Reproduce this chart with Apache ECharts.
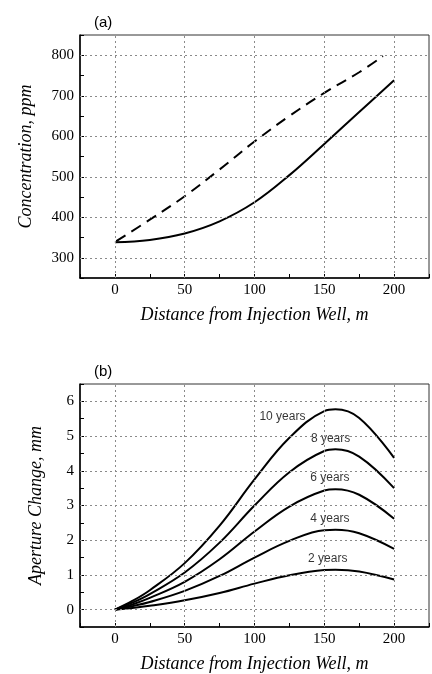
<!DOCTYPE html>
<html>
<head>
<meta charset="utf-8">
<script src="https://cdn.jsdelivr.net/npm/echarts@6/dist/echarts.min.js"></script>
<style>html,body{margin:0;padding:0;background:#fff}#c{width:432px;height:674px}</style>
</head>
<body>
<div id="c"></div>
<script>
// ---- Panel (a): concentration ----
const distA = [0, 25, 50, 75, 100, 125, 150, 175, 200];
const concSolid = [338, 344, 360, 390, 437, 504, 581, 660, 738];
const distDashed = [1, 25, 50, 75, 100, 125, 150, 175, 192];
const concDashed = [341, 394, 452, 518, 587, 650, 707, 758, 798];

// ---- Panel (b): aperture change ----
const distB = [0, 12.5, 25, 50, 75, 100, 125, 150, 158, 175, 200];
const ap2  = [0, 0.05, 0.11, 0.27, 0.48, 0.75, 0.99, 1.14, 1.15, 1.10, 0.87];
const ap4  = [0, 0.10, 0.22, 0.54, 0.97, 1.50, 1.98, 2.29, 2.30, 2.20, 1.75];
const ap6  = [0, 0.15, 0.34, 0.80, 1.45, 2.25, 2.97, 3.43, 3.47, 3.31, 2.62];
const ap8  = [0, 0.20, 0.45, 1.07, 1.93, 3.00, 3.96, 4.57, 4.62, 4.41, 3.50];
const ap10 = [0, 0.25, 0.56, 1.34, 2.42, 3.75, 4.95, 5.72, 5.77, 5.52, 4.37];

const yearLabels = ['10 years', '8 years', '6 years', '4 years', '2 years'];
const yearLabelX = [120, 154.5, 154, 154, 152.5];
const yearLabelY = [5.57, 4.93, 3.81, 2.62, 1.48];

// ---- tick / grid values ----
const xGrid = [0, 50, 100, 150, 200];
const yGridA = [300, 400, 500, 600, 700, 800];
const yGridB = [0, 1, 2, 3, 4, 5, 6];

const serif = '"Liberation Serif", "Times New Roman", serif';
const sans = '"Liberation Sans", Arial, sans-serif';

function pair(xs, ys) { return xs.map((x, i) => [x, ys[i]]); }

function gridMark(yVals) {
  return {
    silent: true, symbol: 'none', animation: false,
    label: { show: false },
    lineStyle: { type: [2, 3], color: '#8a8a8a', width: 1 },
    data: xGrid.map(v => ({ xAxis: v })).concat(yVals.map(v => ({ yAxis: v })))
  };
}

function xAxisDef(gi) {
  return {
    type: 'value', gridIndex: gi, min: -25, max: 225, interval: 25,
    name: 'Distance from Injection Well, m', nameLocation: 'middle', nameGap: 28,
    nameTextStyle: { fontFamily: serif, fontStyle: 'italic', fontSize: 18, color: '#000', verticalAlign: 'top' },
    axisLine: { onZero: false, lineStyle: { color: '#000', width: 1.5 } },
    axisTick: { inside: true, length: 4, lineStyle: { color: '#000' } },
    axisLabel: { fontFamily: serif, fontSize: 15, color: '#000', margin: 5,
      formatter: v => (v % 50 === 0 && v >= 0 && v <= 200) ? String(v) : '' },
    splitLine: { show: false }
  };
}

function curve(xs, ys, extra) {
  return Object.assign({
    type: 'line', xAxisIndex: 1, yAxisIndex: 1, data: pair(xs, ys), smooth: 0.4,
    showSymbol: false, lineStyle: { color: '#000', width: 2 }, z: 3
  }, extra || {});
}

const option = {
  animation: false,
  backgroundColor: '#fff',
  title: [
    { text: '(a)', left: 89, top: 10, textStyle: { fontFamily: sans, fontSize: 15, fontWeight: 'normal', color: '#000' } },
    { text: '(b)', left: 89, top: 359, textStyle: { fontFamily: sans, fontSize: 15, fontWeight: 'normal', color: '#000' } }
  ],
  grid: [
    { left: 80, top: 35, width: 352, height: 243, show: true, borderColor: '#333', borderWidth: 1 },
    { left: 80, top: 384, width: 352, height: 244, show: true, borderColor: '#333', borderWidth: 1 }
  ],
  xAxis: [xAxisDef(0), xAxisDef(1)],
  yAxis: [
    {
      type: 'value', gridIndex: 0, min: 250, max: 850, interval: 50,
      name: 'Concentration, ppm', nameLocation: 'middle', nameGap: 45,
      nameTextStyle: { fontFamily: serif, fontStyle: 'italic', fontSize: 18, color: '#000' },
      axisLine: { onZero: false, lineStyle: { color: '#000', width: 1.5 } },
      axisTick: { inside: true, length: 4, lineStyle: { color: '#000' } },
      axisLabel: { fontFamily: serif, fontSize: 15, color: '#000', margin: 6,
        formatter: v => (v % 100 === 0 && v >= 300 && v <= 800) ? String(v) : '' },
      splitLine: { show: false }
    },
    {
      type: 'value', gridIndex: 1, min: -0.5, max: 6.5, interval: 0.5,
      name: 'Aperture Change, mm', nameLocation: 'middle', nameGap: 35,
      nameTextStyle: { fontFamily: serif, fontStyle: 'italic', fontSize: 18, color: '#000' },
      axisLine: { onZero: false, lineStyle: { color: '#000', width: 1.5 } },
      axisTick: { inside: true, length: 4, lineStyle: { color: '#000' } },
      axisLabel: { fontFamily: serif, fontSize: 15, color: '#000', margin: 6,
        formatter: v => (Number.isInteger(v) && v >= 0 && v <= 6) ? String(v) : '' },
      splitLine: { show: false }
    }
  ],
  series: [
    { type: 'line', xAxisIndex: 0, yAxisIndex: 0, data: pair(distA, concSolid), smooth: 0.4,
      showSymbol: false, lineStyle: { color: '#000', width: 2 }, markLine: gridMark(yGridA), z: 3 },
    { type: 'line', xAxisIndex: 0, yAxisIndex: 0, data: pair(distDashed, concDashed), smooth: 0.4,
      showSymbol: false, lineStyle: { color: '#000', width: 2, type: [11, 7] }, z: 3 },
    curve(distB, ap2, { markLine: gridMark(yGridB) }),
    curve(distB, ap4),
    curve(distB, ap6),
    curve(distB, ap8),
    curve(distB, ap10),
    { type: 'scatter', xAxisIndex: 1, yAxisIndex: 1, symbolSize: 0, silent: true, z: 4,
      data: yearLabels.map((t, i) => ({ value: [yearLabelX[i], yearLabelY[i]], name: t })),
      label: { show: true, position: 'inside', formatter: p => p.name,
        fontFamily: sans, fontSize: 12, color: '#000' } }
  ]
};

const chart = echarts.init(document.getElementById('c'), null, { renderer: 'canvas' });
chart.setOption(option);
</script>
</body>
</html>
